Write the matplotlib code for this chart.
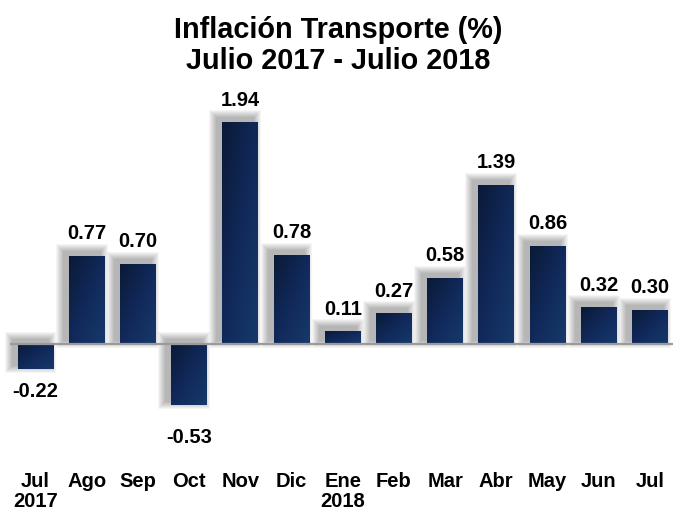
import numpy as np
import matplotlib
matplotlib.use("Agg")
import matplotlib.pyplot as plt
import matplotlib.transforms as mtransforms
from matplotlib.colors import LinearSegmentedColormap
from matplotlib.patches import Rectangle

plt.rcParams['font.family'] = ['Liberation Sans', 'DejaVu Sans']

months = ["Jul\n2017", "Ago", "Sep", "Oct", "Nov", "Dic", "Ene\n2018",
          "Feb", "Mar", "Abr", "May", "Jun", "Jul"]
values = [-0.22, 0.77, 0.70, -0.53, 1.94, 0.78, 0.11, 0.27, 0.58, 1.39, 0.86, 0.32, 0.30]
title = "Inflación Transporte (%)\nJulio 2017 - Julio 2018"

W, H, DPI = 676, 512, 100
fig = plt.figure(figsize=(W / DPI, H / DPI), dpi=DPI)
ax = fig.add_axes([0, 0, 1, 1])

# pixel geometry
x0_px, step_px = 35.5, 51.2
base_px, unit_px = 344, 114.4
ax.set_xlim((0 - x0_px) / step_px, (W - x0_px) / step_px)
ax.set_ylim(-(H - base_px) / unit_px, base_px / unit_px)
ax.axis('off')

x = np.arange(len(values))
width = 0.7
px_x = 1 / step_px
px_y = 1 / unit_px

# soft shadows (offset up-left)
for xi, v in zip(x, values):
    left = xi - width / 2
    bottom = min(0, v)
    h = abs(v)
    for k in range(1, 9):
        ax.add_patch(Rectangle((left - 5 * px_x - k * px_x, bottom + 4 * px_y - k * px_y),
                               width + 2 * k * px_x, h + 2 * k * px_y,
                               facecolor='black', edgecolor='none', alpha=0.04, zorder=1))

bars = ax.bar(x, values, width=width, color='#10284f', zorder=2)

cmap = LinearSegmentedColormap.from_list('g', ['#0a1a36', '#11295a', '#16396c'])
grad = np.add.outer(np.linspace(0, 1, 50), np.linspace(0, 1, 50)) / 2
for b in bars:
    bx, by = b.get_x(), b.get_y()
    bw, bh = b.get_width(), b.get_height()
    y_lo, y_hi = min(by, by + bh), max(by, by + bh)
    im = ax.imshow(grad, cmap=cmap, extent=[bx, bx + bw, y_lo, y_hi],
                   origin='upper', aspect='auto', zorder=2.5, interpolation='bilinear')
    im.set_clip_path(b)

ax.hlines(0, (10 - x0_px) / step_px, (673 - x0_px) / step_px,
          colors='#9a9a9a', linewidth=1.6, zorder=3)

for xi, v in zip(x, values):
    if v >= 0:
        ax.annotate(f"{v:.2f}", (xi, v), xytext=(0, 9), textcoords='offset points',
                    ha='center', va='bottom', fontsize=14.5, fontweight='bold', color='black')
    else:
        off = -9 if v > -0.4 else -17
        ax.annotate(f"{v:.2f}", (xi, v), xytext=(0, off), textcoords='offset points',
                    ha='center', va='top', fontsize=14.5, fontweight='bold', color='black')

trans = mtransforms.blended_transform_factory(ax.transData, fig.transFigure)
for xi, lab in zip(x, months):
    ax.text(xi, (H - 472) / H, lab, transform=trans, ha='center', va='top',
            fontsize=14.5, fontweight='bold', linespacing=1.05)

fig.text(0.5, (H - 16) / H, title, ha='center', va='top', fontsize=20.8,
         fontweight='bold', linespacing=1.12)

fig.savefig("out.png", dpi=DPI)
